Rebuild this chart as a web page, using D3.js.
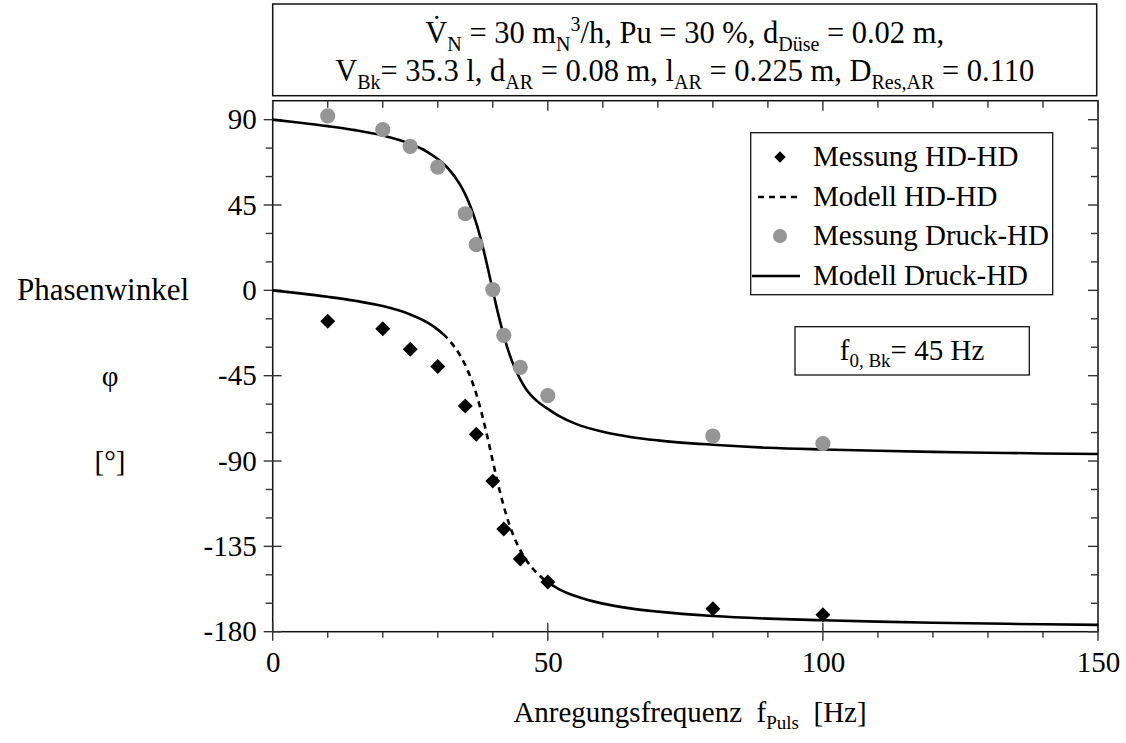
<!DOCTYPE html>
<html><head><meta charset="utf-8">
<script src="https://cdn.jsdelivr.net/npm/d3@7"></script>
<style>
html,body{margin:0;padding:0;background:#fff;}
</style></head>
<body>
<svg id="chart" width="1126" height="743"></svg>
<script>
// ---- data ----
const measFreq = [10, 20, 25, 30, 35, 37, 40, 42, 45, 50, 80, 100];
const measHDHD = [-16.3, -20.2, -31.1, -40.2, -61.0, -75.9, -100.6, -125.9, -141.7, -153.8, -167.9, -171.1];
const measDruckHD = [92.0, 84.7, 75.9, 65.0, 40.4, 24.1, 0.4, -23.7, -40.6, -55.5, -76.8, -80.8];

const modelFreq = [0, 5, 10, 15, 20, 25, 28, 30, 31, 32, 34, 35, 36, 37, 38, 39, 40, 41, 42, 43, 44, 45, 46, 48, 50, 52, 55, 60, 65, 70, 80, 90, 100, 110, 120, 130, 140, 150];
const modelHDHD = [0, -1.6, -3.4, -5.5, -8.3, -12.7, -16.8, -20.7, -23.1, -26.1, -34.0, -39.4, -46.2, -54.6, -65.0, -77.0, -90.0, -102.7, -113.9, -123.4, -131.0, -137.0, -141.9, -149.0, -154.0, -157.5, -161.2, -165.2, -167.7, -169.4, -171.7, -173.1, -174.0, -174.7, -175.3, -175.7, -176.1, -176.4];
const modelDruckHD = [90, 88.4, 86.6, 84.5, 81.7, 77.3, 73.2, 69.3, 66.9, 63.9, 56.0, 50.6, 43.8, 35.4, 25.0, 13.0, 0, -12.7, -23.9, -33.4, -41.0, -47.0, -51.9, -58.3, -62.5, -66.2, -70.3, -74.6, -77.3, -79.1, -81.4, -83.0, -83.9, -84.6, -85.2, -85.6, -86.0, -86.3];
const dashedRange = [31, 50];

const xTicks = [0, 50, 100, 150];
const yTicks = [90, 45, 0, -45, -90, -135, -180];
const legendLabels = ["Messung HD-HD", "Modell HD-HD", "Messung Druck-HD", "Modell Druck-HD"];

// ---- layout ----
const SERIF = "'Liberation Serif', 'Times New Roman', serif";
const svg = d3.select("#chart");
const X0 = 272.7, X1 = 1098, Y0 = 631.7, Y1 = 100.7;
const x = d3.scaleLinear().domain([0, 150]).range([X0, X1]);
const y = d3.scaleLinear().domain([-180, 100]).range([Y0, Y1]);
const FONT = 29;
const TITLE_FONT = 30.5;
const tickCol = "#333";

// frame
svg.append("rect").attr("x", X0).attr("y", Y1).attr("width", X1 - X0).attr("height", Y0 - Y1)
  .attr("fill", "none").attr("stroke", "#111").attr("stroke-width", 1.5);

// minor/major ticks
const xMinor = d3.range(0, 151, 10);
const yMinor = d3.range(-180, 91, 15);
const tg = svg.append("g").attr("stroke", tickCol).attr("stroke-width", 1.4);
xMinor.forEach(v => {
  const major = v % 50 === 0;
  tg.append("line").attr("x1", x(v)).attr("x2", x(v))
    .attr("y1", major ? Y0 - 9 : Y0).attr("y2", major ? Y0 + 9 : Y0 + 6);
  tg.append("line").attr("x1", x(v)).attr("x2", x(v))
    .attr("y1", Y1).attr("y2", Y1 + (major ? 10 : 7));
});
yMinor.forEach(v => {
  const major = v % 45 === 0;
  tg.append("line").attr("y1", y(v)).attr("y2", y(v))
    .attr("x1", major ? X0 - 9 : X0 - 7).attr("x2", major ? X0 + 9 : X0);
  tg.append("line").attr("y1", y(v)).attr("y2", y(v))
    .attr("x1", X1).attr("x2", X1 - (major ? 10 : 7));
});

// tick labels via axes (their lines hidden; ticks drawn above)
const xAxis = svg.append("g").attr("transform", `translate(0,${Y0})`)
  .call(d3.axisBottom(x).tickValues(xTicks).tickFormat(d => String(d)).tickSize(0).tickPadding(20));
const yAxis = svg.append("g").attr("transform", `translate(${X0},0)`)
  .call(d3.axisLeft(y).tickValues(yTicks).tickFormat(d => String(d)).tickSize(0).tickPadding(16));
[xAxis, yAxis].forEach(a => {
  a.select(".domain").remove();
  a.selectAll("text").style("font-family", SERIF).style("font-size", FONT + "px").attr("fill", "#000");
});

// ---- model curves ----
const lineGen = d3.line().x(d => x(d[0])).y(d => y(d[1])).curve(d3.curveMonotoneX);
const hd = modelFreq.map((f, i) => [f, modelHDHD[i]]);
const dr = modelFreq.map((f, i) => [f, modelDruckHD[i]]);
const cg = svg.append("g").attr("fill", "none").attr("stroke", "#000").attr("stroke-width", 2.6);
cg.append("path").datum(hd.filter(d => d[0] <= dashedRange[0])).attr("d", lineGen);
cg.append("path").datum(hd.filter(d => d[0] >= dashedRange[1])).attr("d", lineGen);
cg.append("path").datum(hd.filter(d => d[0] >= dashedRange[0] && d[0] <= dashedRange[1])).attr("d", lineGen)
  .attr("stroke-dasharray", "6,5");
cg.append("path").datum(dr).attr("d", lineGen);

// ---- measurements ----
const diamond = d3.symbol(d3.symbolSquare, 112);
svg.append("g").selectAll("path").data(measFreq.map((f, i) => [f, measHDHD[i]])).join("path")
  .attr("d", diamond).attr("fill", "#000")
  .attr("transform", d => `translate(${x(d[0])},${y(d[1])}) rotate(45)`);
svg.append("g").selectAll("circle").data(measFreq.map((f, i) => [f, measDruckHD[i]])).join("circle")
  .attr("cx", d => x(d[0])).attr("cy", d => y(d[1])).attr("r", 7.6).attr("fill", "#969696");

// ---- text helpers ----
function mkText(x0, y0, anchor, size) {
  return svg.append("text").attr("x", x0).attr("y", y0).attr("text-anchor", anchor)
    .style("font-family", SERIF).style("font-size", (size || FONT) + "px").style("white-space", "pre")
    .attr("fill", "#000");
}
function rich(sel, parts, size) {
  let cur = 0;
  parts.forEach(p => {
    const [t, mode] = p;
    let shift = 0, fs = size;
    if (mode === "sub") { shift = 0.25 * size; fs = Math.round(size * 0.66); }
    if (mode === "sup") { shift = -0.40 * size; fs = Math.round(size * 0.66); }
    sel.append("tspan").attr("dy", shift - cur).style("font-size", fs + "px").text(t);
    cur = shift;
  });
}

// ---- title box ----
svg.append("rect").attr("x", X0).attr("y", 4).attr("width", 1096.7 - X0).attr("height", 91.7)
  .attr("fill", "#fff").attr("stroke", "#111").attr("stroke-width", 1.5);
rich(mkText((X0 + 1096.7) / 2, 43, "middle", TITLE_FONT),
  [["V\u0307"], ["N", "sub"], [" = 30 m"], ["N", "sub"], ["3", "sup"], ["/h, Pu = 30 %, d"], ["Düse", "sub"], [" = 0.02 m,"]], TITLE_FONT);
rich(mkText((X0 + 1096.7) / 2, 81, "middle", TITLE_FONT),
  [["V"], ["Bk", "sub"], ["= 35.3 l, d"], ["AR", "sub"], [" = 0.08 m, l"], ["AR", "sub"], [" = 0.225 m, D"], ["Res,AR", "sub"], [" = 0.110"]], TITLE_FONT);

// ---- legend ----
const lg = svg.append("g");
lg.append("rect").attr("x", 750.7).attr("y", 132.7).attr("width", 302).attr("height", 162)
  .attr("fill", "#fff").attr("stroke", "#111").attr("stroke-width", 1.3);
const rowY = [157, 197, 236, 276];
legendLabels.forEach((lab, i) => {
  mkText(813, rowY[i] + 9, "start").text(lab);
});
lg.append("path").attr("d", d3.symbol(d3.symbolSquare, 64)).attr("fill", "#000")
  .attr("transform", `translate(780,${rowY[0]}) rotate(45)`);
lg.append("line").attr("x1", 758).attr("x2", 800).attr("y1", rowY[1]).attr("y2", rowY[1])
  .attr("stroke", "#000").attr("stroke-width", 2.4).attr("stroke-dasharray", "6,5");
lg.append("circle").attr("cx", 780).attr("cy", rowY[2]).attr("r", 7).attr("fill", "#969696");
lg.append("line").attr("x1", 752).attr("x2", 800).attr("y1", rowY[3]).attr("y2", rowY[3])
  .attr("stroke", "#000").attr("stroke-width", 2.4);

// ---- f0 annotation ----
svg.append("rect").attr("x", 795).attr("y", 326.7).attr("width", 234.3).attr("height", 48.3)
  .attr("fill", "#fff").attr("stroke", "#111").attr("stroke-width", 1.3);
rich(mkText(912, 360, "middle"), [["f"], ["0, Bk", "sub"], ["= 45 Hz"]], FONT);

// ---- axis titles ----
mkText(103, y(0) + 10, "middle", 31).text("Phasenwinkel");
mkText(110, y(-45) + 10, "middle").text("φ");
mkText(110, y(-90) + 10, "middle").text("[°]");
rich(mkText(690, 722, "middle"), [["Anregungsfrequenz  f"], ["Puls", "sub"], ["  [Hz]"]], FONT);
</script>
</body></html>
